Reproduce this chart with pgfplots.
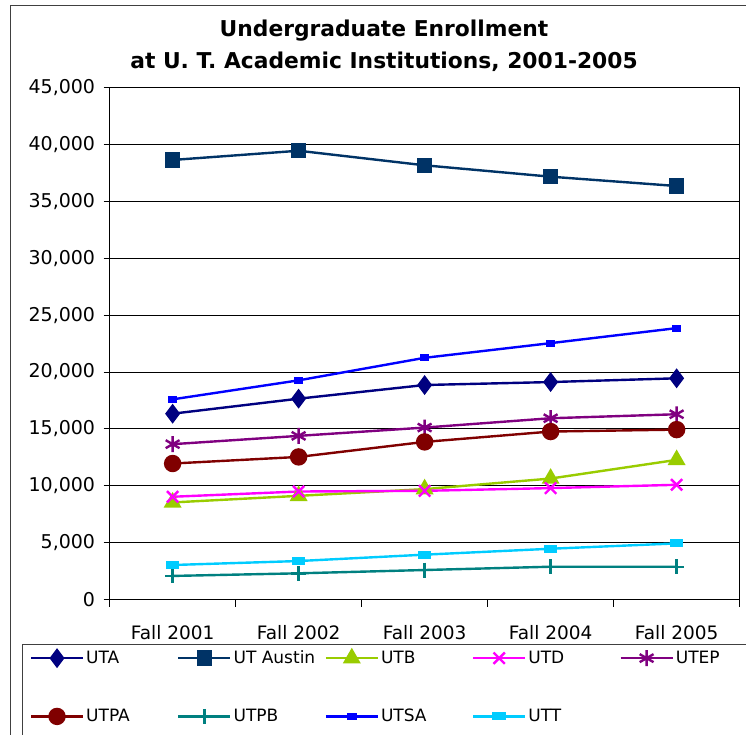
\documentclass[border=0pt]{standalone}
\usepackage{pgfplots}
\pgfplotsset{compat=1.18}
\usepackage{fontspec}
\setmainfont{DejaVu Sans}
\definecolor{cUTA}{HTML}{000080}
\definecolor{cAUS}{HTML}{003366}
\definecolor{cUTB}{HTML}{99CC00}
\definecolor{cUTD}{HTML}{FF00FF}
\definecolor{cUTEP}{HTML}{800080}
\definecolor{cUTPA}{HTML}{800000}
\definecolor{cUTPB}{HTML}{008080}
\definecolor{cUTSA}{HTML}{0000FF}
\definecolor{cUTT}{HTML}{00CCFF}
\begin{document}
\begin{tikzpicture}[x=1pt,y=1pt]
\useasboundingbox (0,0) rectangle (746,735);
\clip (0,0) rectangle (746,735);
\fill[white] (0,0) rectangle (746,735);
\draw[line width=1pt, black!75] (10,-5) -- (10,729) -- (760,729);
\draw[line width=1pt, black!75] (22,-5) rectangle (760,90);
\node[align=center, font=\fontsize{21.8}{32}\selectfont\bfseries] at (384,689) {Undergraduate Enrollment\\at U. T. Academic Institutions, 2001-2005};
\begin{axis}[
  at={(87,119)}, anchor=south west,
  width=630pt, height=512pt, scale only axis,
  xmin=-0.5, xmax=4.5, ymin=0, ymax=45000,
  xtick={0,1,2,3,4},
  xticklabels={Fall 2001,Fall 2002,Fall 2003,Fall 2004,Fall 2005},
  minor xtick={-0.5,0.5,1.5,2.5,3.5,4.5},
  ytick={0,5000,...,45000},
  xtick pos=left, ytick pos=left,
  ymajorgrids, grid style={black, line width=0.9pt},
  axis line style={black, line width=1.2pt},
  tick align=outside,
  major tick length=6pt, minor tick length=7pt,
  major x tick style={draw=none},
  minor x tick style={black, line width=1.2pt},
  major y tick style={black, line width=1pt},
  scaled y ticks=false,
  tick label style={font=\fontsize{19}{21}\selectfont},
  yticklabel style={/pgf/number format/fixed, /pgf/number format/1000 sep={,}, /pgf/number format/assume math mode=true, xshift=-5pt},
  xticklabel style={yshift=-16pt, font=\fontsize{18.5}{21}\selectfont},
  every axis plot/.append style={line width=2.4pt},
  legend columns=5,
  legend cell align=left,
  legend style={at={(axis description cs:-0.127,-0.096)}, anchor=north west, draw=none, fill=none,
    font=\fontsize{17}{20}\selectfont, inner sep=0pt, row sep=40pt, nodes={inner sep=2pt}},
  legend image code/.code={\draw[mark repeat=2,mark phase=2] plot coordinates {(0pt,0pt) (26pt,0pt) (52pt,0pt)};},
]
\addplot[color=cUTA, mark=diamond*, mark size=8pt, mark options={solid}] coordinates {(0,16340) (1,17660) (2,18860) (3,19120) (4,19450)};
\addlegendentry{\makebox[89pt][l]{UTA}}
\addplot[color=cAUS, mark=square*, mark size=6.5pt] coordinates {(0,38640) (1,39450) (2,38170) (3,37170) (4,36350)};
\addlegendentry{\makebox[89pt][l]{UT Austin}}
\addplot[color=cUTB, mark=triangle*, mark size=8pt] coordinates {(0,8540) (1,9120) (2,9710) (3,10640) (4,12280)};
\addlegendentry{\makebox[89pt][l]{UTB}}
\addplot[color=cUTD, mark=x, mark size=8pt] coordinates {(0,9040) (1,9500) (2,9560) (3,9800) (4,10090)};
\addlegendentry{\makebox[89pt][l]{UTD}}
\addplot[color=cUTEP, mark=asterisk, mark size=8pt] coordinates {(0,13660) (1,14390) (2,15120) (3,15940) (4,16290)};
\addlegendentry{\makebox[89pt][l]{UTEP}}
\addplot[color=cUTPA, mark=*, mark size=7.5pt] coordinates {(0,11960) (1,12540) (2,13860) (3,14770) (4,14940)};
\addlegendentry{\makebox[89pt][l]{UTPA}}
\addplot[color=cUTPB, mark=+, mark size=7.5pt] coordinates {(0,2080) (1,2310) (2,2600) (3,2890) (4,2890)};
\addlegendentry{\makebox[89pt][l]{UTPB}}
\addplot[color=cUTSA, mark=square*, mark size=3pt, mark options={xscale=1.2, yscale=0.8}] coordinates {(0,17600) (1,19270) (2,21250) (3,22540) (4,23860)};
\addlegendentry{\makebox[89pt][l]{UTSA}}
\addplot[color=cUTT, mark=square*, mark size=3.5pt, mark options={xscale=1.6, yscale=0.8}] coordinates {(0,3040) (1,3390) (2,3950) (3,4470) (4,4940)};
\addlegendentry{\makebox[89pt][l]{UTT}}
\end{axis}
\end{tikzpicture}
\end{document}
